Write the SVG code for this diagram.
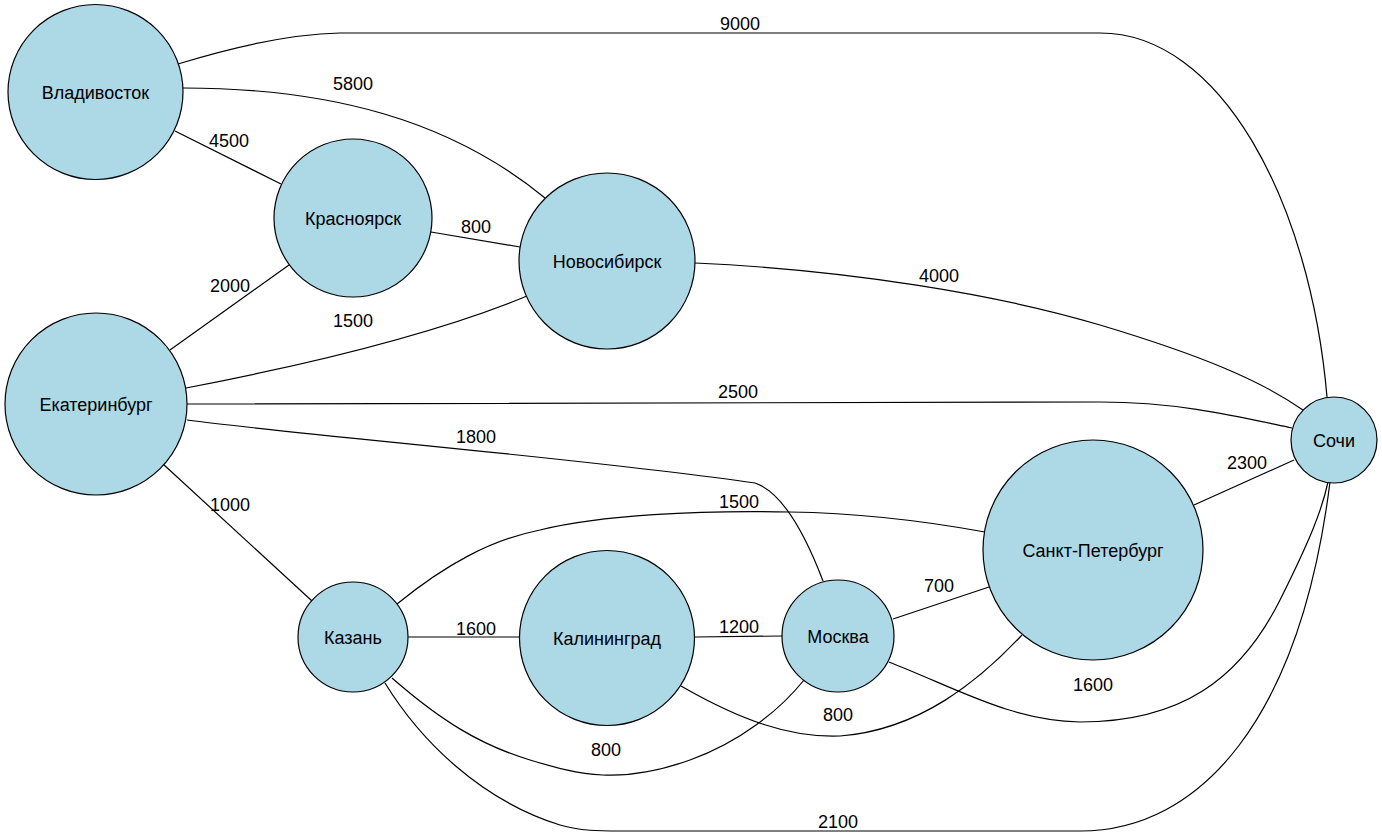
<svg xmlns="http://www.w3.org/2000/svg" width="1382" height="837" viewBox="0 0 1382 837">
<style>
.n{fill:#add8e6;stroke:#000;stroke-width:1.2}
.e{fill:none;stroke:#000;stroke-width:1.2}
text{font-family:"Liberation Sans",Arial,sans-serif;font-size:18px;fill:#000;text-anchor:middle}
</style>
<rect width="1382" height="837" fill="#fff"/>
<g id="edges">
<path class="e" d="M178,64 C230,48 290,34 340,33 L1100,33 C1220,33 1310,200 1327,397"/>
<text x="740" y="30">9000</text>
<path class="e" d="M183,88 C330,88 450,120 545,198"/>
<text x="353" y="90">5800</text>
<path class="e" d="M175,131 L281,184"/>
<text x="229" y="147">4500</text>
<path class="e" d="M431,232 L520,247"/>
<text x="476" y="233">800</text>
<path class="e" d="M170,350 L289,265"/>
<text x="230" y="292">2000</text>
<path class="e" d="M186,388 C300,366 430,336 527,296"/>
<text x="353" y="327">1500</text>
<path class="e" d="M187,404 L1100,402 C1180,402 1240,417 1292,428"/>
<text x="738" y="398">2500</text>
<path class="e" d="M187,420 C300,435 600,460 755,483 C790,495 815,560 823,581"/>
<text x="476" y="443">1800</text>
<path class="e" d="M163,464 L312,601"/>
<text x="230" y="511">1000</text>
<path class="e" d="M397,604 C445,565 490,540 540,530 C600,515 700,510 790,512 C860,513 930,522 985,532"/>
<text x="739" y="508">1500</text>
<path class="e" d="M407,637 L520,637"/>
<text x="476" y="635">1600</text>
<path class="e" d="M695,637 L783,636"/>
<text x="739" y="633">1200</text>
<path class="e" d="M893,619 L989,587"/>
<text x="939" y="592">700</text>
<path class="e" d="M889,662 C960,690 1010,720 1080,722 C1180,722 1240,680 1280,600 C1310,540 1322,510 1328,482"/>
<text x="1093" y="691">1600</text>
<path class="e" d="M681,686 C740,720 790,738 840,736 C920,730 980,680 1022,635"/>
<text x="838" y="721">800</text>
<path class="e" d="M392,678 C440,720 480,745 530,760 C580,775 620,785 690,760 C740,742 780,710 804,680"/>
<text x="606" y="756">800</text>
<path class="e" d="M385,683 C420,740 480,800 560,825 C580,831 600,831 620,831 L1080,831 C1200,831 1300,720 1330,482"/>
<text x="838" y="828">2100</text>
<path class="e" d="M1294,460 L1194,505"/>
<text x="1247" y="469">2300</text>
<path class="e" d="M695,263 C850,270 1000,295 1100,325 C1200,355 1260,380 1303,410"/>
<text x="939" y="282">4000</text>
</g>
<g id="vladivostok"><circle class="n" cx="95.5" cy="92" r="87.5"/><text x="95.5" y="98.5">Владивосток</text></g>
<g id="krasnoyarsk"><circle class="n" cx="353" cy="218" r="79"/><text x="353" y="224.5">Красноярск</text></g>
<g id="novosibirsk"><circle class="n" cx="607" cy="261" r="88"/><text x="607" y="267.5">Новосибирск</text></g>
<g id="ekaterinburg"><circle class="n" cx="96" cy="404" r="91"/><text x="96" y="410.5">Екатеринбург</text></g>
<g id="sochi"><circle class="n" cx="1334" cy="440" r="43"/><text x="1334" y="446.5">Сочи</text></g>
<g id="spb"><circle class="n" cx="1093" cy="550" r="110"/><text x="1093" y="556.5">Санкт-Петербург</text></g>
<g id="kazan"><circle class="n" cx="353" cy="637" r="55"/><text x="353" y="643.5">Казань</text></g>
<g id="kaliningrad"><circle class="n" cx="607" cy="638" r="87.5"/><text x="607" y="644.5">Калининград</text></g>
<g id="moscow"><circle class="n" cx="838" cy="636" r="56"/><text x="838" y="642.5">Москва</text></g>
</svg>
